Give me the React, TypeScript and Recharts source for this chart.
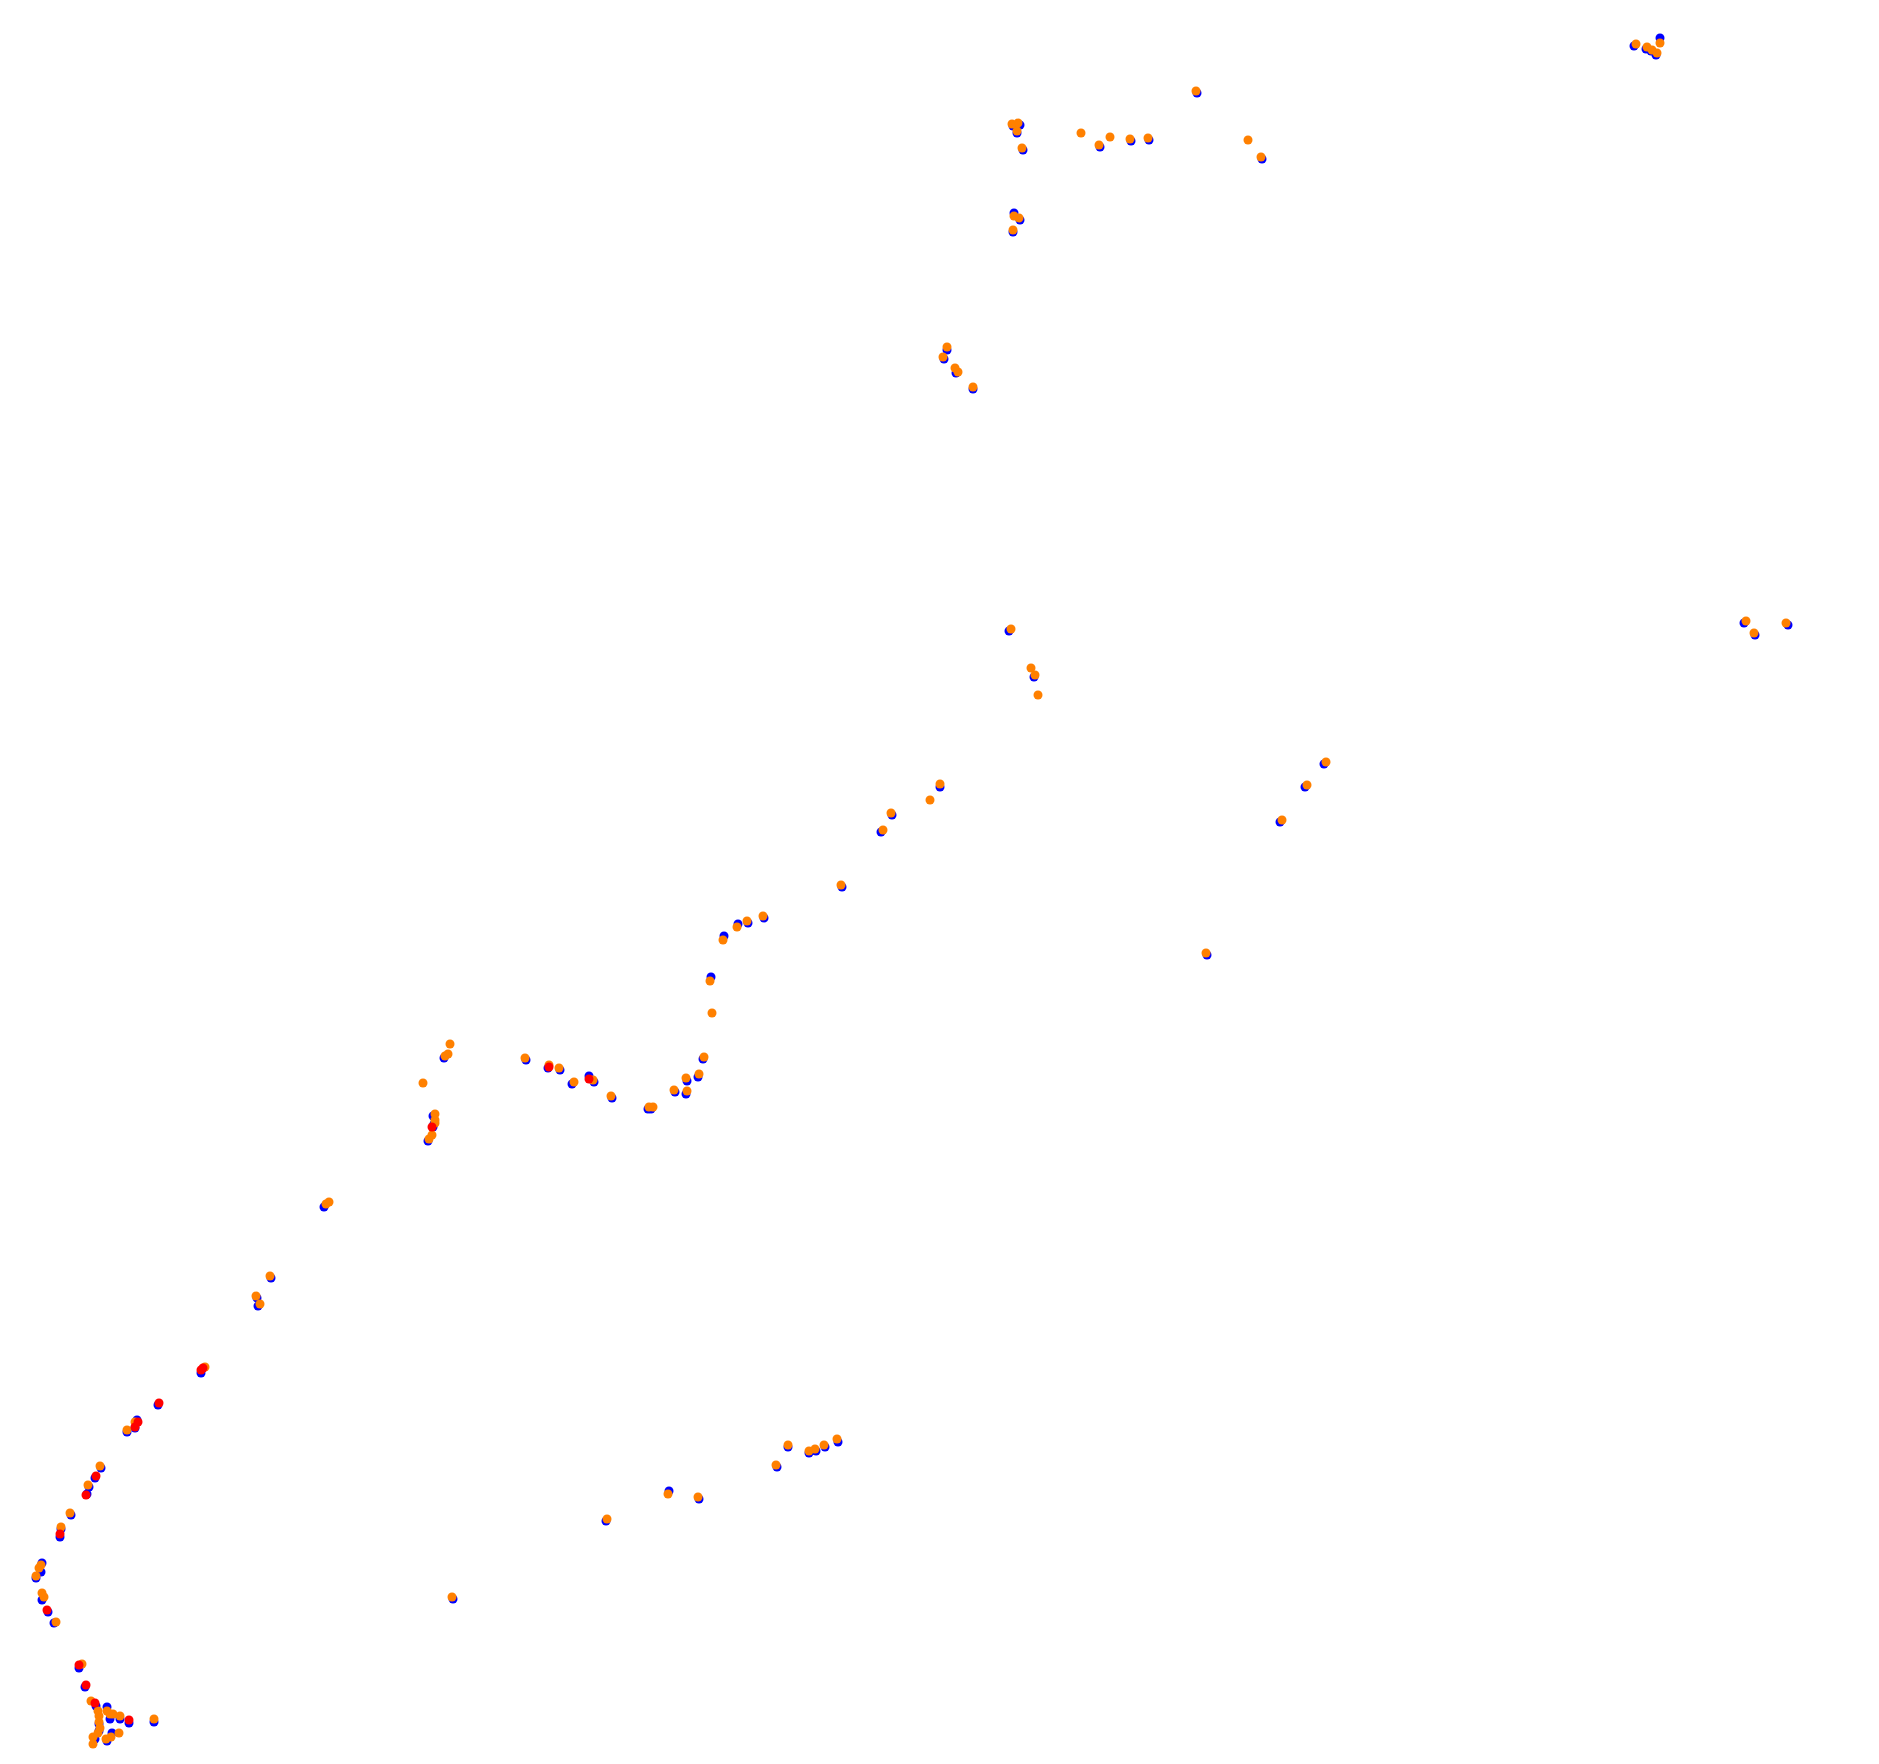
import React from "react";
import { ScatterChart, Scatter, XAxis, YAxis } from "recharts";

type P = { x: number; y: number };
const pts = (a: number[][]): P[] => a.map(([x, y]) => ({ x, y }));

const xDomain = [0, 1879];
const yDomain = [0, 1764];

const blueSeries = pts([
  [1197,93],[1013,126],[1020,125],[1017,133],[1023,150],[1100,147],[1131,141],[1149,140],[1262,159],[1014,213],[1020,220],[1013,232],
  [1634,46],[1646,49],[1656,55],[1660,38],[1651,51],
  [947,350],[944,359],[956,373],[973,389],[1009,631],[1034,677],
  [1744,623],[1755,635],[1788,625],
  [1324,764],[1305,787],[1280,822],[1207,955],
  [940,787],[892,815],[881,832],[842,887],[764,918],[748,923],[738,924],[724,936],[711,977],
  [444,1058],[433,1116],[434,1124],[433,1127],[428,1141],
  [526,1060],[548,1068],[560,1070],[572,1084],[589,1076],[594,1082],[612,1098],[648,1109],[651,1109],[675,1092],[687,1081],[686,1094],[698,1077],[703,1059],
  [324,1207],[271,1278],[257,1298],[258,1306],[201,1373],[158,1405],
  [137,1420],[135,1428],[127,1432],[101,1468],[95,1478],[89,1487],[87,1494],[71,1515],[61,1529],[60,1537],
  [42,1563],[41,1572],[36,1578],[42,1600],[48,1612],[54,1623],[79,1668],[85,1687],[96,1706],[107,1707],[110,1719],[120,1719],[129,1723],[154,1722],[99,1724],[99,1731],[95,1739],[112,1733],[107,1741],
  [453,1599],[606,1521],[669,1491],[699,1499],[777,1467],[788,1447],[809,1453],[816,1451],[825,1447],[838,1442],
]);

const orangeSeries = pts([
  [1196,91],[1012,124],[1018,123],[1017,131],[1022,148],[1081,133],[1099,145],[1110,137],[1130,139],[1148,138],[1248,140],[1261,157],[1014,216],[1019,218],[1013,230],
  [1636,44],[1647,47],[1652,50],[1657,53],[1660,43],
  [947,347],[943,357],[955,368],[958,372],[973,387],[1011,629],[1031,668],[1035,675],[1038,695],
  [1746,621],[1754,633],[1786,623],
  [1326,762],[1307,785],[1282,820],[1206,953],
  [940,784],[930,800],[891,813],[883,830],[841,885],[763,916],[747,921],[737,927],[723,940],[710,981],[712,1013],
  [450,1044],[448,1054],[445,1056],[423,1083],[435,1114],[435,1120],[435,1123],[432,1135],[429,1139],
  [525,1058],[549,1065],[559,1068],[574,1082],[593,1080],[611,1096],[649,1107],[653,1107],[674,1090],[686,1078],[687,1091],[699,1074],[704,1057],
  [329,1202],[326,1204],[270,1276],[256,1296],[260,1304],[205,1367],
  [135,1422],[127,1430],[100,1466],[88,1485],[70,1513],[61,1527],
  [41,1565],[39,1568],[36,1576],[42,1593],[44,1597],[56,1622],[82,1664],[91,1701],[107,1711],[98,1711],[99,1716],[110,1714],[113,1714],[120,1716],[154,1719],[99,1722],[100,1728],[98,1733],[93,1737],[93,1744],[119,1733],[111,1737],[106,1739],
  [452,1597],[607,1519],[668,1494],[698,1497],[776,1465],[788,1445],[809,1451],[815,1449],[824,1445],[837,1439],
]);

const redSeries = pts([
  [549,1067],[589,1079],[432,1127],[201,1370],[203,1368],[159,1403],[138,1422],[135,1427],[96,1476],[86,1495],[60,1534],[47,1610],[79,1665],[86,1685],[95,1703],[129,1720],
]);

export default function App() {
  return (
    <div style={{ position: "absolute", left: 0, top: 0, width: 1879, height: 1764, overflow: "hidden", background: "#fff" }}>
      <ScatterChart width={1879} height={1764} margin={{ top: 0, right: 0, bottom: 0, left: 0 }}>
        <XAxis type="number" dataKey="x" domain={xDomain} hide allowDataOverflow />
        <YAxis type="number" dataKey="y" domain={yDomain} reversed hide allowDataOverflow />
        <Scatter data={blueSeries} fill="#0000ff" isAnimationActive={false} />
        <Scatter data={orangeSeries} fill="#ff8000" isAnimationActive={false} />
        <Scatter data={redSeries} fill="#ff0000" isAnimationActive={false} />
      </ScatterChart>
    </div>
  );
}
